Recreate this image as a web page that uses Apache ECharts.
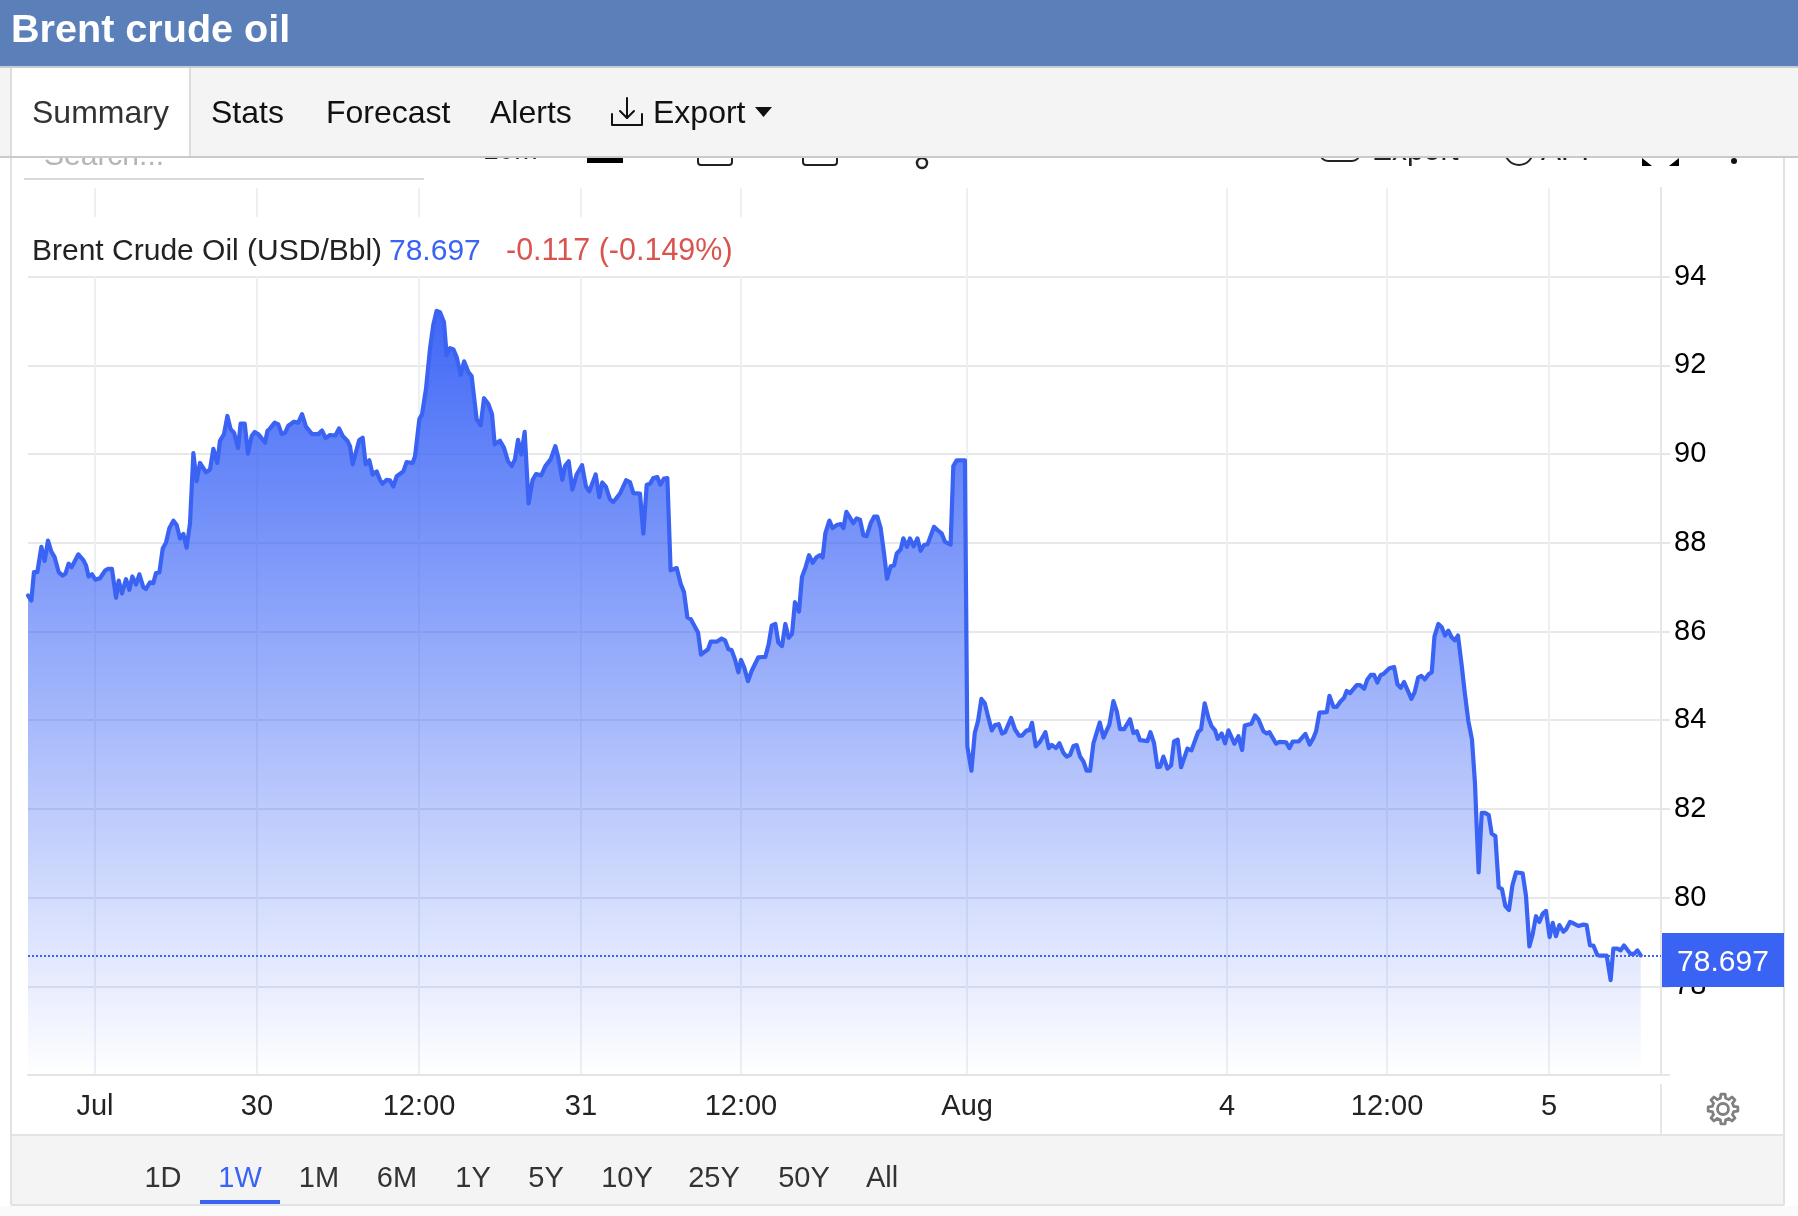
<!DOCTYPE html>
<html>
<head>
<meta charset="utf-8">
<style>html,body{margin:0;padding:0;background:#fff}#c{width:1798px;height:1216px}</style>
<script src="https://cdn.jsdelivr.net/npm/echarts@6/dist/echarts.min.js"></script>
</head>
<body>
<div id="c"></div>
<script>
const sessionHours = [0,.25,.44,.69,.99,1.23,1.48,1.73,1.98,2.27,2.57,2.77,3.01,3.23,3.73,4.10,4.30,4.49,4.74,4.99,5.33,5.73,5.93,6.22,6.52,6.72,6.96,7.26,7.51,7.73,8.0,8.25,8.54,8.74,9.04,9.28,9.48,9.73,9.98,10.22,10.47,10.77,11.01,11.26,11.51,11.75,12.0,12.25,12.49,12.74,13.19,13.48,13.73,14.02,14.22,14.52,14.77,15.01,15.26,15.56,15.75,16.05,16.3,16.57,16.79,17.09,17.56,17.73,17.93,18.27,18.54,18.79,19.04,19.28,19.7,20.02,20.3,20.59,21.04,21.5,21.78,22.05,22.37,22.77,23.04,23.31,23.65,23.85,24.05,24.35,24.54,24.79,25.01,25.28,25.53,25.83,26.07,26.27,26.57,26.81,27.06,27.31,27.8,28.05,28.49,28.67,28.99,29.19,29.48,29.78,30.02,30.27,30.52,30.81,31.01,31.26,31.51,31.75,32.05,32.3,32.62,32.86,33.23,33.53,33.78,34.1,34.37,34.57,34.96,35.26,35.55,35.83,36.07,36.3,36.54,36.79,37.08,37.38,37.63,38.02,38.32,38.71,39.06,39.28,39.58,39.78,40.05,40.32,40.64,41.04,41.33,41.58,42.05,42.32,42.54,42.81,43.11,43.36,43.85,44.3,44.59,44.84,45.33,45.58,45.83,46.07,46.32,46.62,46.84,47.11,47.36,47.6,48.05,48.34,48.59,48.84,49.09,49.63,49.85,50.37,50.57,51.01,51.38,51.63,51.88,52.12,52.37,52.62,52.81,53.06,53.33,53.6,54.1,54.62,54.86,55.09,55.36,55.58,55.85,56.1,56.34,56.59,56.81,57.11,57.33,57.6,57.85,58.12,58.42,58.67,58.86,59.06,59.36,59.6,59.9,60.2,60.4,60.62,60.84,61.13,61.38,61.63,61.88,62.12,62.42,62.67,62.91,63.16,63.41,63.63,63.9,64.15,64.35,64.64,64.84,65.11,65.33,65.6,65.88,66.12,66.37,66.64,67.11,67.51,67.68,67.93,68.34,68.54,68.79,69.0,69.4,69.58,69.88,70.13,70.37,70.62,70.87,71.11,71.39,71.63,71.9,72.15,72.37,72.82,73.11,73.41,73.63,73.98,74.18,74.37,74.65,74.97,75.36,75.61,75.83,76.15,76.4,76.7,76.94,77.19,77.44,77.68,77.93,78.18,78.42,78.67,78.92,79.39,79.66,80.1,80.4,80.65,80.89,81.19,81.63,81.88,82.13,82.37,82.92,83.14,83.41,83.66,83.86,84.1,84.4,84.67,84.89,85.16,85.41,85.88,86.18,86.67,86.89,87.16,87.44,87.68,87.93,88.13,88.42,88.67,88.92,89.36,89.66,89.93,90.13,90.62,90.89,91.14,91.51,91.76,91.95,92.45,92.7,93.19,93.44,93.68,94.13,94.62,94.94,95.21,95.41,95.66,96.2,96.4,96.7,96.94,97.19,97.49,97.68,97.93,98.42,98.67,98.97,99.21,99.46,99.71,99.95,100.2,100.4,100.84,101.19,101.44,101.68,101.93,102.47,102.72,102.97,103.21,103.46,103.76,103.98,104.18,104.47,104.71,104.96,105.21,105.45,105.7,105.92,106.2,106.44,106.69,106.96,107.18,107.31,107.45,107.68,107.92,108.2,108.42,108.69,108.94,109.18,109.43,109.7,109.95,110.22,110.71,110.96,111.21,111.45,111.7,111.95,112.2,112.44,112.71,112.94,113.18,113.43,113.73,113.92,114.22,114.47,114.84,115.21,115.45,115.7,115.95,116.24,116.44,116.94,117.23,117.43,117.73,117.97,118.22,118.71,118.96,119.21,119.46];
const prices = [86.81,86.70,87.34,87.34,87.91,87.59,88.05,87.80,87.67,87.34,87.26,87.30,87.53,87.45,87.74,87.61,87.49,87.24,87.29,87.17,87.20,87.38,87.41,87.41,86.76,87.15,86.86,87.18,86.94,87.24,87.06,87.29,87.0,86.96,87.11,87.09,87.32,87.33,87.87,88.0,88.33,88.50,88.40,88.10,88.20,87.89,88.44,90.02,89.39,89.80,89.59,89.65,90.12,89.80,90.30,90.45,90.86,90.56,90.48,90.14,90.69,90.69,90.01,90.41,90.5,90.44,90.26,90.52,90.58,90.71,90.67,90.45,90.48,90.64,90.73,90.71,90.90,90.62,90.45,90.45,90.53,90.36,90.43,90.42,90.58,90.41,90.30,90.18,89.77,90.11,90.32,90.37,89.77,89.86,89.54,89.61,89.42,89.33,89.42,89.41,89.27,89.5,89.61,89.82,89.80,89.95,90.79,90.90,91.47,92.38,92.91,93.23,93.20,92.98,92.23,92.39,92.36,92.19,91.79,92.09,91.85,91.76,90.79,90.65,91.26,91.13,90.9,90.22,90.3,90.14,89.84,89.73,89.88,90.32,89.99,90.5,88.89,89.42,89.55,89.52,89.73,89.88,90.18,89.92,89.42,89.73,89.84,89.2,89.54,89.75,89.27,89.16,89.54,89.03,89.36,89.26,88.98,88.92,89.11,89.41,89.37,89.12,89.11,88.21,89.31,89.33,89.46,89.48,89.31,89.45,89.46,87.38,87.43,87.08,86.89,86.32,86.28,85.98,85.48,85.6,85.77,85.77,85.84,85.8,85.6,85.58,85.37,85.08,85.36,85.18,84.88,85.11,85.42,85.43,85.71,86.13,86.17,85.75,85.67,86.17,85.86,85.94,86.66,86.45,87.23,87.45,87.72,87.55,87.68,87.72,87.67,88.21,88.5,88.33,88.4,88.42,88.33,88.7,88.59,88.44,88.55,88.52,88.17,88.15,88.44,88.59,88.59,88.33,87.76,87.19,87.47,87.49,87.76,87.85,88.1,87.91,88.1,87.92,88.1,87.82,87.95,87.97,88.36,88.25,88.21,88.02,87.96,89.73,89.86,89.86,89.86,83.41,82.86,83.71,83.98,84.48,84.38,84.09,83.77,83.89,83.91,83.7,83.73,84.05,83.79,83.65,83.65,83.77,83.77,83.94,83.41,83.52,83.73,83.37,83.44,83.37,83.48,83.26,83.18,83.22,83.42,83.44,83.18,83.07,82.86,82.86,83.48,83.95,83.61,83.9,84.43,84.2,83.8,83.8,84.02,83.71,83.75,83.55,83.53,83.73,83.48,82.94,82.95,83.18,82.91,82.98,83.52,83.56,82.94,83.36,83.32,83.73,83.79,84.38,84.05,83.86,83.77,83.58,83.7,83.48,83.77,83.47,83.64,83.33,83.88,83.92,84.11,84.02,83.75,83.7,83.73,83.47,83.51,83.5,83.37,83.52,83.52,83.69,83.45,83.6,83.75,84.17,84.18,84.55,84.3,84.3,84.41,84.51,84.66,84.61,84.79,84.79,84.71,84.92,85.02,85.02,84.85,85.02,85.04,85.17,85.2,84.81,84.73,84.86,84.48,84.64,84.96,85.0,84.92,85.04,85.08,85.89,86.17,86.1,85.91,86.02,85.87,85.8,85.91,85.23,84.58,83.98,83.56,82.58,81.59,80.57,81.91,81.91,81.86,81.44,81.39,80.23,80.19,79.81,79.72,80.27,80.57,80.55,80.04,78.9,79.17,79.58,79.45,79.64,79.7,79.11,79.43,79.13,79.38,79.23,79.28,79.45,79.42,79.36,79.39,79.38,78.92,78.92,78.71,78.69,78.69,78.14,78.85,78.85,78.81,78.92,78.73,78.73,78.81,78.697];
const tickHours = [4.96,16.96,28.96,40.96,52.81,69.56,88.81,100.67,112.67];
const tickLabels = ['Jul','30','12:00','31','12:00','Aug','4','12:00','5'];
const lastPrice = 78.697;
const seriesName = 'Brent Crude Oil (USD/Bbl)';
const changeText = '-0.117 (-0.149%)';
const pageTitle = 'Brent crude oil';
const navTabs = ['Summary','Stats','Forecast','Alerts','Export'];
const rangeTabs = ['1D','1W','1M','6M','1Y','5Y','10Y','25Y','50Y','All'];

const FONT = '"Liberation Sans", Arial, sans-serif';
const BLUE = '#3a63f4';
const g = [];
function rect(x,y,w,h,fill,z,r){g.push({type:'rect',silent:true,z:z||50,shape:{x,y,width:w,height:h,r:r||0},style:{fill}});}
function line(x1,y1,x2,y2,stroke,w,z){g.push({type:'line',silent:true,z:z||60,shape:{x1,y1,x2,y2},style:{stroke,lineWidth:w||2}});}
function text(x,y,t,size,fill,align,z,weight){g.push({type:'text',silent:true,z:z||70,x,y,style:{text:t,fontFamily:FONT,fontSize:size,fontWeight:weight||'normal',fill,align:align||'left',verticalAlign:'middle'}});}
function poly(points,stroke,w,z,fill){g.push({type:fill?'polygon':'polyline',silent:true,z:z||70,shape:{points},style:fill?{fill}:{stroke,lineWidth:w,fill:null,lineJoin:'round',lineCap:'round'}});}
function circle(cx,cy,r,stroke,w,z,fill){g.push({type:'circle',silent:true,z:z||70,shape:{cx,cy,r},style:{stroke:stroke||null,lineWidth:w||0,fill:fill||null}});}

/* toolbar remnants peeking out beneath the tab bar (z below it) */
text(44,157,'Search...',30,'#b5b5b5','left',30);
line(24,179,424,179,'#d9d9d9',2,30);
text(483,151,'10m',28,'#222','left',30);
rect(587,150,36,13,'#000',30);
g.push({type:'rect',silent:true,z:30,shape:{x:698,y:140,width:34,height:25,r:3},style:{fill:null,stroke:'#222',lineWidth:2}});
g.push({type:'rect',silent:true,z:30,shape:{x:803,y:140,width:34,height:25,r:3},style:{fill:null,stroke:'#222',lineWidth:2}});
circle(922,163,5,'#222',2.5,30);
g.push({type:'rect',silent:true,z:30,shape:{x:1320,y:136,width:40,height:25,r:8},style:{fill:null,stroke:'#222',lineWidth:2}});
text(1372,152,'Export',30,'#222','left',30);
circle(1519,151,14,'#222',2,30);
text(1541,152,'API',30,'#222','left',30);
poly([[1642,158],[1642,166],[1652,166]],null,0,30,'#000');
poly([[1679,158],[1679,166],[1669,166]],null,0,30,'#000');
circle(1734,161,3,null,0,30,'#111');

/* white plate behind the series legend */
rect(28,217,718,59,'#fff',35);
text(32,252,seriesName,30,'#222','left',40);
text(389,252,String(lastPrice),30,BLUE,'left',40);
text(506,252,changeText,30.5,'#d9534f','left',40);

/* frame */
line(11,156,11,1205,'#e2e2e2',2,45);
line(1784,156,1784,1205,'#e2e2e2',2,45);
line(1661,1084,1661,1135,'#e6e6e6',2,45);
line(1661,1075,1670,1075,'#e6e6e6',2,45);

/* header + tabs */
rect(0,0,1798,66,'#5b7fb8',60);
rect(0,66,1798,90,'#f4f4f4',60);
rect(0,66,1798,2,'#c9ccd2',61);
rect(0,156,1798,2,'#cacaca',61);
rect(11,68,179,88,'#fff',61);
line(11,68,11,156,'#dcdcdc',2,62);
line(190,68,190,156,'#dcdcdc',2,62);
text(11,31,pageTitle,39.6,'#fff','left',70,'bold');
const navX=[32,211,326,490,653];
navTabs.forEach((t,i)=>text(navX[i],114,t,32,i===0?'#333':'#111','left',70));
poly([[627,98],[627,118]],'#111',2);
poly([[620,111],[627,118],[634,111]],'#111',2);
poly([[612,114],[612,125],[642,125],[642,114]],'#111',2);
poly([[755,107],[772,107],[763.5,117]],null,0,70,'#111');

/* bottom bar */
rect(11,1135,1773,70,'#f4f4f4',44);
line(11,1135,1784,1135,'#e4e4e4',2,45);
line(11,1205,1784,1205,'#e2e2e2',2,45);
rect(0,1206,1798,10,'#fafafa',44);
const rangeX=[163,240,319,397,473,546,627,714,804,882];
rangeTabs.forEach((t,i)=>text(rangeX[i],1179,t,29,i===1?BLUE:'#333','center',70));
rect(200,1200,80,4,BLUE,70);

/* last-price flag */
rect(1662,933,122,54,BLUE,80);
text(1723,963,String(lastPrice),30,'#fff','center',81);

/* gear */
(function(){const cx=1723,cy=1109,p=[];const n=8;for(let i=0;i<n;i++){const a=i*2*Math.PI/n;const s=Math.PI/n;[[-.62,11],[-.36,15],[.36,15],[.62,11]].forEach(q=>{const b=a+q[0]*s;p.push([cx+q[1]*Math.cos(b),cy+q[1]*Math.sin(b)]);});}
g.push({type:'polygon',silent:true,z:70,shape:{points:p},style:{stroke:'#808080',lineWidth:2.8,fill:null,lineJoin:'round'}});circle(cx,cy,5.5,'#808080',2.8,70);})();

const chart = echarts.init(document.getElementById('c'), null, {width:1798,height:1216});
chart.setOption({
  animation:false,
  backgroundColor:'#fff',
  grid:{left:28,right:137,top:188,bottom:141,containLabel:false},
  xAxis:{
    type:'value',min:0,max:120.96,
    axisLine:{show:true,onZero:false,lineStyle:{color:'#e4e4e4',width:2}},
    axisTick:{show:false,customValues:tickHours},
    axisLabel:{show:true,customValues:tickHours,margin:17,fontFamily:FONT,fontSize:29,color:'#222',
      showMinLabel:true,showMaxLabel:true,
      formatter:v=>{const i=tickHours.indexOf(v);return i>=0?tickLabels[i]:'';}},
    splitLine:{show:true,lineStyle:{color:'#ecf0f5',width:2}}
  },
  yAxis:{
    type:'value',position:'right',min:76,max:96,interval:2,
    axisLine:{show:true,onZero:false,lineStyle:{color:'#e6e6e6',width:2}},
    axisTick:{show:true,length:9,lineStyle:{color:'#e6e6e6',width:2}},
    axisLabel:{show:true,margin:13,fontFamily:FONT,fontSize:29,color:'#000',showMinLabel:false,showMaxLabel:false},
    splitLine:{show:true,showMaxLine:false,lineStyle:{color:'#e7e8ea',width:2}}
  },
  series:[{
    type:'line',name:seriesName,showSymbol:false,symbol:'none',smooth:false,clip:true,
    data:sessionHours.map((h,i)=>[h,prices[i]]),
    lineStyle:{color:BLUE,width:4.2,join:'round',cap:'round'},
    areaStyle:{origin:'start',opacity:1,color:new echarts.graphic.LinearGradient(0,0,0,1,[
      {offset:0,color:'rgba(58,99,246,0.97)'},{offset:1,color:'rgba(58,99,246,0)'}])},
    markLine:{silent:true,symbol:'none',label:{show:false},animation:false,
      lineStyle:{color:BLUE,type:'dotted',width:2},data:[{yAxis:lastPrice}]}
  }],
  graphic:{elements:g}
});
</script>
</body>
</html>
